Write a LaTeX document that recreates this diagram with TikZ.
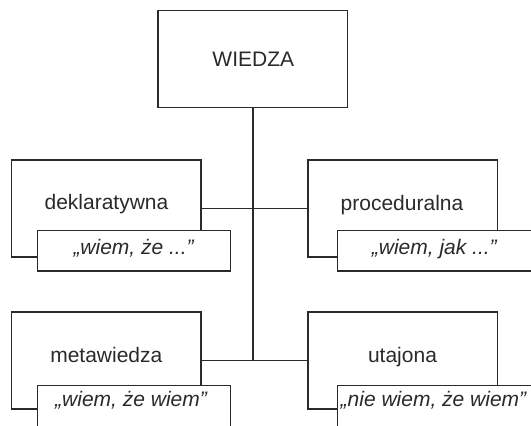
\documentclass[tikz,border=0pt]{standalone}
\usepackage{fontspec}
\setmainfont{Liberation Sans}
\definecolor{ink}{HTML}{2A2A2A}
\begin{document}
\begin{tikzpicture}[x=1bp,y=-1bp,
  box/.style={draw=ink, line width=1.3bp, minimum width=189.5bp, minimum height=97bp, inner sep=0pt},
  subbox/.style={draw=ink, fill=white, line width=1.3bp, minimum height=40.3bp, inner sep=0pt},
  lbl/.style={anchor=base, inner sep=0pt, text=ink, font=\fontsize{21bp}{25bp}\selectfont},
  saying/.style={anchor=base west, inner sep=0pt, text=ink, font=\fontsize{21bp}{25bp}\selectfont\itshape},
  link/.style={draw=ink, line width=1.3bp}]
\useasboundingbox (0,0) rectangle (531,425);
\clip (0,0) rectangle (531,425);

% main category boxes
\node[box] (wiedza) at (252.85,59) {};
\node[box] (dekl)   at (106.1,208.5) {};
\node[box] (proc)   at (402.6,208.5) {};
\node[box] (meta)   at (106.2,360.6) {};
\node[box] (utaj)   at (402.6,360.6) {};

% overlapping boxes with the short characterisations
\node[subbox, minimum width=193.2bp] (deklS) at (134.1,250.85) {};
\node[subbox, minimum width=207.5bp] (procS) at (441.25,250.85) {};
\node[subbox, minimum width=193.2bp, minimum height=50bp] (metaS) at (134.1,410.5) {};
\node[subbox, minimum width=207.5bp, minimum height=50bp] (utajS) at (441.25,410.5) {};

% tree connectors
\coordinate (hub) at (wiedza.south |- meta.east);
\draw[link] (wiedza.south) -- (hub);
\draw[link] (dekl.east) -- (proc.west);
\draw[link] (meta.east) -- (utaj.west);

% labels
\node[lbl] (tW) at (253.3,66.7) {WIEDZA};
\node[lbl] (tD) at (106.5,209.5) {deklaratywna};
\node[lbl] (tP) at (402,210.5) {proceduralna};
\node[lbl] (tM) at (106.3,362) {metawiedza};
\node[lbl] (tU) at (402.5,362) {utajona};

\node[saying] (sD) at (73.3,254.5) {„wiem, że ...”};
\node[saying] (sP) at (371.7,254.5) {„wiem, jak ...”};
\node[saying] (sM) at (55,406.5) {„wiem, że wiem”};
\node[saying] (sU) at (340.5,406.5) {„nie wiem, że wiem”};
\end{tikzpicture}
\end{document}
